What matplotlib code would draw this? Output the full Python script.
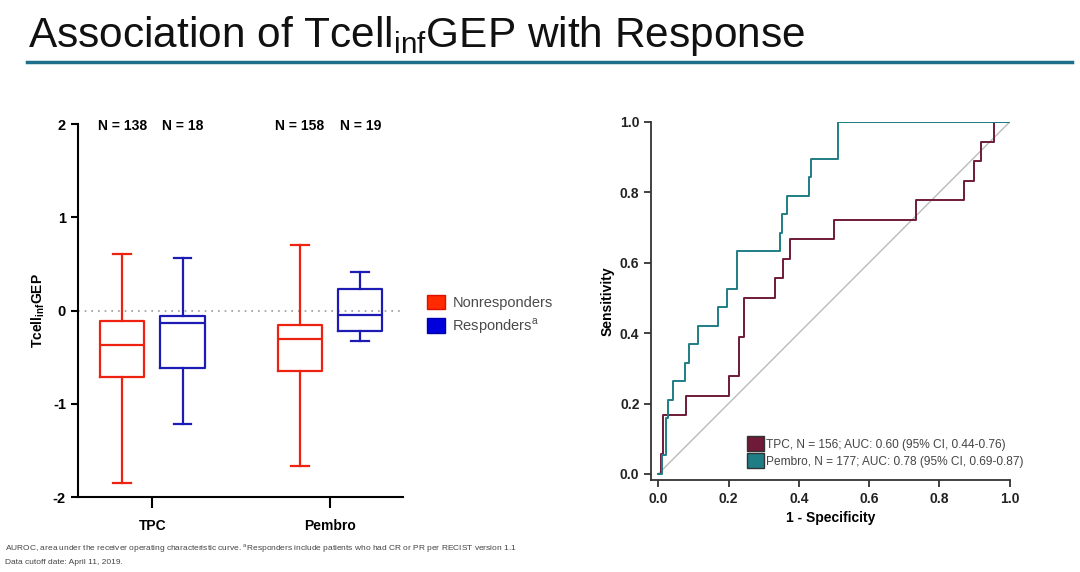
import numpy as np
import matplotlib.pyplot as plt
from matplotlib.patches import Patch

plt.rcParams['font.family'] = ['Liberation Sans', 'DejaVu Sans']
plt.rcParams['axes.unicode_minus'] = False

# box plot data (min, q1, median, q3, max)
groups = ["TPC", "Pembro"]
non_stats = [[-1.85, -0.71, -0.365, -0.115, 0.61],
             [-1.67, -0.65, -0.30, -0.15, 0.70]]
resp_stats = [[-1.22, -0.615, -0.13, -0.06, 0.56],
              [-0.33, -0.22, -0.05, 0.236, 0.415]]
non_n = [138, 158]
resp_n = [18, 19]

# ROC curves (corner points, step post)
tpc_fpr = [0, 0.008, 0.013, 0.08, 0.2, 0.229, 0.245, 0.332, 0.355, 0.374,
           0.5, 0.732, 0.869, 0.898, 0.919, 0.956, 1.0]
tpc_tpr = [0, 0.056, 0.167, 0.222, 0.278, 0.389, 0.5, 0.556, 0.611, 0.667,
           0.722, 0.778, 0.833, 0.889, 0.944, 1.0, 1.0]
pem_fpr = [0, 0.01, 0.022, 0.028, 0.043, 0.075, 0.087, 0.113, 0.171, 0.196,
           0.225, 0.346, 0.352, 0.365, 0.43, 0.435, 0.512, 1.0]
pem_tpr = [0, 0.053, 0.158, 0.21, 0.263, 0.316, 0.368, 0.421, 0.474, 0.526,
           0.632, 0.684, 0.737, 0.789, 0.842, 0.895, 1.0, 1.0]

red = '#EE2211'
blue = '#1C1CB4'
maroon = '#6E1A38'
teal = '#1F7D85'

fig = plt.figure(figsize=(10.8, 5.72), dpi=100)

# title + rule
fig.text(0.026, 0.918, r"Association of Tcell$_{\mathregular{inf}}$GEP with Response",
         fontsize=30.5, color='#111111', va='baseline')
fig.add_artist(plt.Line2D([0.025, 0.993], [0.891, 0.891], color='#1F6E8A', lw=2.5))

# ---- box plot ----
ax = fig.add_axes([0.072, 0.131, 0.301, 0.652])

def to_stats(s):
    return dict(whislo=s[0], q1=s[1], med=s[2], q3=s[3], whishi=s[4], fliers=[])

pos = np.arange(len(groups))
off = 0.17
for stats, shift, col in [(non_stats, -off, red), (resp_stats, off, blue)]:
    props = dict(color=col, linewidth=1.6)
    ax.bxp([to_stats(s) for s in stats], positions=pos + shift, widths=0.25,
           capwidths=0.1, boxprops=props, medianprops=props,
           whiskerprops=props, capprops=props, showfliers=False,
           manage_ticks=False)

ax.axhline(0, color='#999999', ls=(0, (1, 3)), lw=1.2, zorder=0)
ax.set_xlim(-0.42, 1.41)
ax.set_ylim(-2, 2)
ax.set_yticks([-2, -1, 0, 1, 2])
ax.set_xticks(pos)
ax.set_xticklabels(groups, fontweight='bold', fontsize=10)
for lab in ax.get_yticklabels():
    lab.set_fontweight('bold')
    lab.set_fontsize(10.5)
ax.tick_params(axis='x', length=8, width=1.5, pad=8)
ax.tick_params(axis='y', length=5, width=1.5)
for sp in ['top', 'right']:
    ax.spines[sp].set_visible(False)
for sp in ['left', 'bottom']:
    ax.spines[sp].set_linewidth(1.5)
ax.set_ylabel(r"Tcell$_{\mathregular{inf}}$GEP", fontweight='bold', fontsize=10)
for i in pos:
    ax.text(i - off, 1.98, f"N = {non_n[i]}", ha='center', va='center',
            fontweight='bold', fontsize=10)
    ax.text(i + off, 1.98, f"N = {resp_n[i]}", ha='center', va='center',
            fontweight='bold', fontsize=10)

fig.legend([Patch(facecolor='#FF2A00', edgecolor='#E01000'),
            Patch(facecolor='#0000DD', edgecolor='#0000AA')],
           ["Nonresponders", r"Responders$^{\mathregular{a}}$"],
           loc='upper left', bbox_to_anchor=(0.383, 0.508), frameon=False,
           fontsize=10.5, handlelength=1.25, handleheight=1.2, handletextpad=0.5,
           labelspacing=0.45, labelcolor='#4a4a4a')

# ---- ROC ----
ax2 = fig.add_axes([0.603, 0.161, 0.332, 0.626])
ax2.plot([0, 1], [0, 1], color='#BBBBBB', lw=1)
ax2.plot(tpc_fpr, tpc_tpr, drawstyle='steps-post', color=maroon, lw=1.4)
ax2.plot(pem_fpr, pem_tpr, drawstyle='steps-post', color=teal, lw=1.4)
ax2.set_xlim(-0.02, 1.0)
ax2.set_ylim(-0.017, 1.0)
ticks = np.arange(0, 1.01, 0.2)
ax2.set_xticks(ticks)
ax2.set_yticks(ticks)
ax2.set_xticklabels([f"{t:.1f}" for t in ticks], fontweight='bold', fontsize=10)
ax2.set_yticklabels([f"{t:.1f}" for t in ticks], fontweight='bold', fontsize=10)
ax2.tick_params(length=5, width=1.3, color='#333333', labelcolor='#222222')
for sp in ['top', 'right']:
    ax2.spines[sp].set_visible(False)
for sp in ['left', 'bottom']:
    ax2.spines[sp].set_linewidth(1.3)
    ax2.spines[sp].set_color('#333333')
ax2.set_xlabel("1 - Specificity", fontweight='bold', fontsize=10)
ax2.set_ylabel("Sensitivity", fontweight='bold', fontsize=10)

fig.legend([Patch(facecolor=maroon, edgecolor='#333333'),
            Patch(facecolor=teal, edgecolor='#333333')],
           ["TPC, N = 156; AUC: 0.60 (95% CI, 0.44-0.76)",
            "Pembro, N = 177; AUC: 0.78 (95% CI, 0.69-0.87)"],
           loc='upper left', bbox_to_anchor=(0.682, 0.256), frameon=False,
           fontsize=8.6, handlelength=1.4, handleheight=1.5, handletextpad=0.2,
           labelspacing=0.2, labelcolor='#444444')

# footnotes
fig.text(0.005, 0.040, "AUROC, area under the receiver operating characteristic curve. "
         r"$^{\mathregular{a}}$Responders include patients who had CR or PR per RECIST version 1.1",
         fontsize=6, color='#444444', va='center')
fig.text(0.005, 0.017, "Data cutoff date: April 11, 2019.", fontsize=6,
         color='#444444', va='center')

fig.savefig("out.png", dpi=100)
